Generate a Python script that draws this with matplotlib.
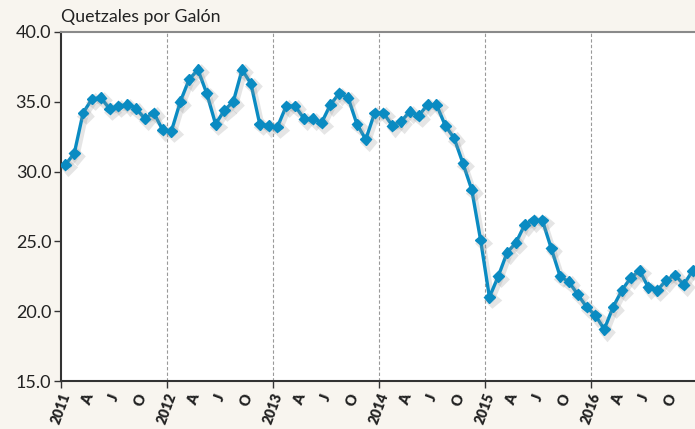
import matplotlib.pyplot as plt
import matplotlib.patheffects as pe

# Precio mensual (Quetzales por galón), ene-2011 a dic-2016
years = ['2011', '2012', '2013', '2014', '2015', '2016']
quarter_labels = ['A', 'J', 'O']

prices = [
    30.5, 31.3, 34.2, 35.2, 35.3, 34.5, 34.7, 34.8, 34.5, 33.8, 34.2, 33.0,  # 2011
    32.9, 35.0, 36.6, 37.3, 35.6, 33.4, 34.4, 35.0, 37.3, 36.3, 33.4, 33.3,  # 2012
    33.2, 34.7, 34.7, 33.8, 33.8, 33.5, 34.8, 35.6, 35.3, 33.4, 32.3, 34.2,  # 2013
    34.2, 33.3, 33.6, 34.3, 34.0, 34.8, 34.8, 33.3, 32.4, 30.6, 28.7, 25.1,  # 2014
    21.0, 22.5, 24.2, 24.9, 26.2, 26.5, 26.5, 24.5, 22.5, 22.1, 21.2, 20.3,  # 2015
    19.7, 18.7, 20.3, 21.5, 22.4, 22.9, 21.7, 21.5, 22.2, 22.6, 21.9, 22.9,  # 2016
]

BG = '#f8f5ef'
LINE = '#0a8bc2'

plt.rcParams['font.family'] = ['Lato', 'DejaVu Sans']

fig = plt.figure(figsize=(6.95, 4.29), dpi=100, facecolor=BG)
ax = fig.add_axes([61 / 695, 1 - 381 / 429, 1 - 61 / 695, (381 - 32) / 429])
ax.set_facecolor('white')

x = [i + 0.5 for i in range(len(prices))]
ax.plot(x, prices, color=LINE, linewidth=2.4, marker='D', markersize=5.5,
        markeredgecolor=LINE, zorder=3,
        path_effects=[pe.SimpleLineShadow(offset=(2, -2), shadow_color='#999999', alpha=0.25,
                                          linewidth=3.5),
                      pe.Normal()])

ax.set_xlim(0, 634 / (530 / 60))
ax.set_ylim(15, 40)
ax.set_yticks([15, 20, 25, 30, 35, 40])
ax.set_yticklabels([f'{v:.1f}' for v in [15, 20, 25, 30, 35, 40]], fontsize=13, color='#222222')

# year ticks (major) and quarter ticks (minor)
year_pos = [12 * k for k in range(len(years))]
ax.set_xticks(year_pos)
ax.set_xticklabels(years, rotation=70, fontsize=10, fontweight='heavy', color='#222222')
minor_pos, minor_lab = [], []
for k in range(len(years)):
    for j, lab in enumerate(quarter_labels):
        minor_pos.append(12 * k + 3 * (j + 1))
        minor_lab.append(lab)
ax.set_xticks(minor_pos, minor=True)
ax.set_xticklabels(minor_lab, minor=True, rotation=70, fontsize=10.5, fontweight='heavy', color='#222222')
ax.tick_params(axis='x', which='major', length=5, width=1, color='#333333', pad=2)
ax.tick_params(axis='x', which='minor', length=0, pad=8)
ax.tick_params(axis='y', length=5, width=1, color='#333333', pad=2)

for xp in year_pos[1:]:
    ax.axvline(xp, color='#999999', linestyle=(0, (3, 2)), linewidth=0.8, zorder=1)

ax.spines['right'].set_visible(False)
ax.spines['top'].set_color('#8a8a8a')
ax.spines['top'].set_linewidth(1.5)
ax.spines['left'].set_color('#333333')
ax.spines['left'].set_linewidth(1.5)
ax.spines['bottom'].set_color('#333333')
ax.spines['bottom'].set_linewidth(1.5)

fig.text(61 / 695, 1 - 17 / 429, 'Quetzales por Galón', fontsize=12.8, color='#222222',
         va='center', ha='left')

fig.savefig('out.png', dpi=100, facecolor=BG)
